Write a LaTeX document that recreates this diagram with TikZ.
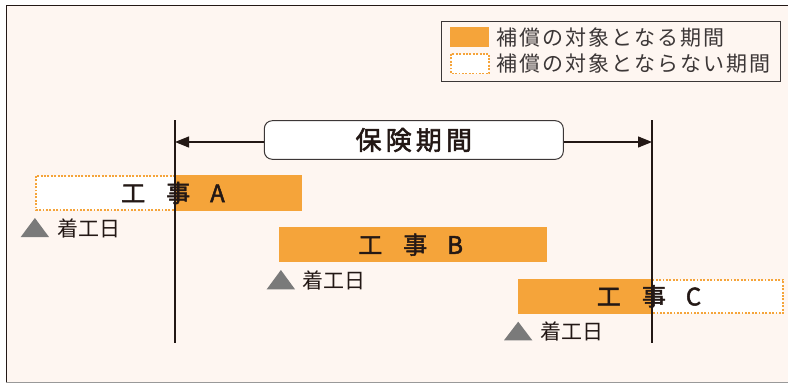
\documentclass[tikz,border=0pt]{standalone}
\usepackage{fontspec}
\setmainfont{Noto Sans CJK JP}
\newfontfamily\jpbold{Noto Sans CJK JP}[FakeBold=2]
\usetikzlibrary{arrows.meta}
\definecolor{barO}{RGB}{245,164,58}
\definecolor{bgC}{RGB}{254,246,241}
\definecolor{inkD}{RGB}{35,24,21}
\definecolor{inkG}{RGB}{60,55,55}
\definecolor{triG}{RGB}{122,122,122}

\tikzset{
  offbar/.style={fill=white,draw=barO,line width=1.9pt,dash pattern=on 1.9pt off 1.5pt},
  worklabel/.style={font=\jpbold\fontsize{24}{24}\selectfont,text=inkD,inner sep=0pt},
  startlabel/.style={font=\fontsize{21}{21}\selectfont,text=inkD,anchor=west,inner sep=0pt},
  legendlabel/.style={font=\fontsize{21}{21}\selectfont\addfontfeature{LetterSpace=10},text=inkG,anchor=west,inner sep=0pt},
  periodbox/.style={draw=inkG,line width=1pt,fill=white,rounded corners=8pt,minimum width=299pt,minimum height=38.6pt,
    font=\jpbold\fontsize{26}{26}\selectfont\addfontfeature{LetterSpace=16},text=inkD,inner sep=0pt}
}
\newcommand{\kouji}[1]{工\hspace{21pt}事\hspace{20pt}#1}

\begin{document}
\begin{tikzpicture}[x=1pt,y=-1pt,>={Triangle[length=14pt,width=11pt]}]
\useasboundingbox (0,0) rectangle (788,383);
% frame
\fill[bgC] (6,5) rectangle (788,382);
\draw[inkD,line width=1pt] (788,5)--(6,5)--(6,382);
\draw[black!40,line width=1pt] (6,382)--(788,382);
% legend
\draw[inkG,line width=1pt] (441,21) rectangle (780,81);
\fill[barO] (450,27.3) rectangle (489.3,46.7);
\draw[offbar] (450.9,53.9) rectangle (489.1,73.5);
\node[legendlabel] (legOn) at (496,38) {補償の対象となる期間};
\node[legendlabel] (legOff) at (496,64) {補償の対象とならない期間};
% bars: dotted part outside the period, orange part inside
\draw[offbar] (35.9,175.9) rectangle (175,210.1);
\fill[barO] (175,175) rectangle (302,211);
\fill[barO] (279.3,227) rectangle (546.7,262.3);
\fill[barO] (518.3,279) rectangle (652,313.7);
\draw[offbar] (652,279.9) rectangle (783.4,312.8);
% start markers
\fill[triG] (20.7,237)--(49,237)--(34.9,218)--cycle;
\fill[triG] (266.7,289.3)--(295,289.3)--(280.9,270)--cycle;
\fill[triG] (504,340.3)--(532.3,340.3)--(518.2,321.7)--cycle;
\node[startlabel] (startA) at (57,228) {着工日};
\node[startlabel] (startB) at (302.7,280) {着工日};
\node[startlabel] (startC) at (540,331) {着工日};
% insurance period
\coordinate (Ltop) at (175,120); \coordinate (Lbot) at (175,343);
\coordinate (Rtop) at (652,120); \coordinate (Rbot) at (652,343);
\draw[inkD,line width=1.4pt] (Ltop)--(Lbot);
\draw[inkD,line width=1.4pt] (Rtop)--(Rbot);
\node[periodbox] (period) at (413.8,140) {保険期間};
\draw[->,inkD,line width=1.2pt] ([yshift=-2pt]period.west)--([yshift=-2pt]Ltop |- period.west);
\draw[->,inkD,line width=1.2pt] ([yshift=-2pt]period.east)--([yshift=-2pt]Rtop |- period.east);
% work labels
\node[worklabel] (workA) at (173,193) {\kouji{A}};
\node[worklabel] (workB) at (410.7,244.7) {\kouji{B}};
\node[worklabel] (workC) at (649,296.3) {\kouji{C}};
\end{tikzpicture}
\end{document}
